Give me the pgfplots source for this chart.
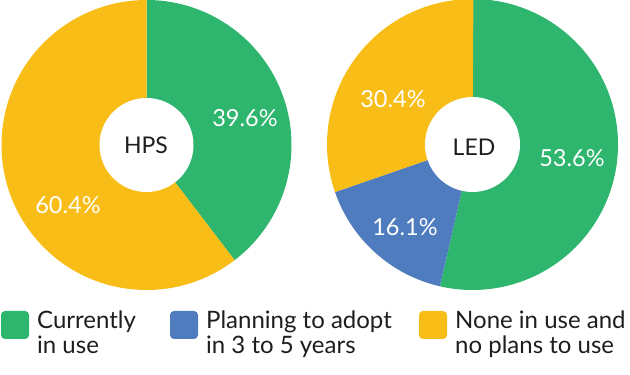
\documentclass[border=0pt]{standalone}
\usepackage{pgfplots}
\pgfplotsset{compat=1.18}
\usepackage{pgfplotstable}
\usepackage{fontspec}
\setmainfont{Lato}
\definecolor{cgreen}{RGB}{46,181,110}
\definecolor{cblue}{RGB}{79,124,190}
\definecolor{cyellow}{RGB}{248,189,22}
\definecolor{ctext}{RGB}{30,30,30}

\pgfplotstableread{
label value color
Currently 39.6 cgreen
None 60.4 cyellow
}\hpsdata
\pgfplotstableread{
label value color
Currently 53.6 cgreen
Planning 16.1 cblue
None 30.4 cyellow
}\leddata

% #1 table, #2 cx, #3 cy, #4 outer radius, #5 hole radius
\newcommand\drawpie[5]{%
  \pgfplotstablegetrowsof{#1}\pgfmathtruncatemacro\lastrow{\pgfplotsretval-1}%
  \def\angstart{90}%
  \pgfplotsforeachungrouped \r in {0,...,\lastrow}{%
    \pgfplotstablegetelem{\r}{value}\of{#1}\let\val\pgfplotsretval
    \pgfplotstablegetelem{\r}{color}\of{#1}\let\col\pgfplotsretval
    \pgfmathsetmacro\angend{\angstart-3.6*\val}%
    \edef\temp{\noexpand\fill[\col, overlay] (axis cs:#2,#3) -- ++(\angstart:#4pt) arc[start angle=\angstart, end angle=\angend, radius=#4pt] -- cycle;}%
    \temp
    \let\angstart\angend
  }%
  \edef\temp{\noexpand\fill[white, overlay] (axis cs:#2,#3) circle[radius=#5pt];}%
  \temp
}

\begin{document}
\begin{tikzpicture}
\begin{axis}[
  hide axis, scale only axis, clip=false,
  width=630pt, height=375pt,
  xmin=0, xmax=630, ymin=0, ymax=375,
]
\drawpie{\hpsdata}{146.5}{230}{145}{47}
\drawpie{\leddata}{472.5}{230.5}{145.5}{47.5}

\begin{scope}[every node/.style={inner sep=0pt, font=\fontsize{23.5}{27}\selectfont}]
\node[text=ctext, font=\fontsize{23}{27}\selectfont] at (axis cs:146,229.5) {HPS};
\node[text=ctext, font=\fontsize{23}{27}\selectfont] at (axis cs:474,228) {LED};
\node[text=white] at (axis cs:245,257) {39.6\%};
\node[text=white] at (axis cs:68,170) {60.4\%};
\node[text=white] at (axis cs:572,217) {53.6\%};
\node[text=white] at (axis cs:393,276) {30.4\%};
\node[text=white] at (axis cs:405,148) {16.1\%};

% legend
\fill[cgreen, rounded corners=4pt] (axis cs:1,36) rectangle (axis cs:29,64);
\fill[cblue, rounded corners=4pt] (axis cs:170,36) rectangle (axis cs:198,64);
\fill[cyellow, rounded corners=4pt] (axis cs:419,36) rectangle (axis cs:447,64);
\begin{scope}[every node/.append style={text=ctext, anchor=base west, font=\fontsize{24}{28}\selectfont}]
\node at (axis cs:37,46) {Currently};
\node at (axis cs:37,21) {in use};
\node at (axis cs:206,46) {Planning to adopt};
\node at (axis cs:206,21) {in 3 to 5 years};
\node at (axis cs:455,46) {None in use and};
\node at (axis cs:455,21) {no plans to use};
\end{scope}
\end{scope}
\end{axis}
\pgfresetboundingbox
\useasboundingbox (current axis.south west) rectangle (current axis.north east);
\end{tikzpicture}
\end{document}
